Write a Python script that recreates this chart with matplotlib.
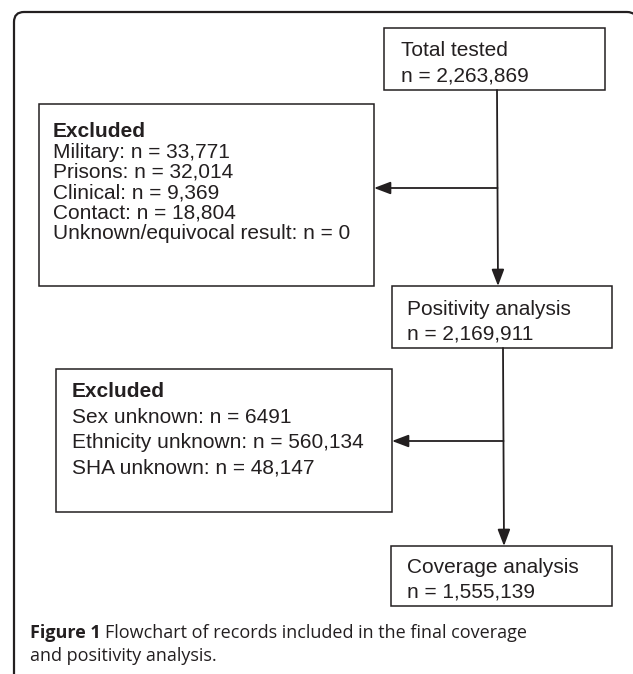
import matplotlib
matplotlib.use("Agg")
import matplotlib.pyplot as plt
from matplotlib.path import Path
from matplotlib.patches import PathPatch, Rectangle

# flowchart content
total_label = "Total tested"
total_n = 2263869
excl1_title = "Excluded"
excl1_labels = ["Military", "Prisons", "Clinical", "Contact", "Unknown/equivocal result"]
excl1_n = [33771, 32014, 9369, 18804, 0]
pos_label = "Positivity analysis"
pos_n = 2169911
excl2_title = "Excluded"
excl2_labels = ["Sex unknown", "Ethnicity unknown", "SHA unknown"]
excl2_n = ["6491", "560,134", "48,147"]
cov_label = "Coverage analysis"
cov_n = 1555139
caption_bold = "Figure 1"
caption_rest = ["Flowchart of records included in the final coverage",
                "and positivity analysis."]

W, H = 633, 674
ink = "#231f20"
fs = 15.0

fig = plt.figure(figsize=(W / 100, H / 100), dpi=100)
ax = fig.add_axes([0, 0, 1, 1])
ax.set_xlim(0, W)
ax.set_ylim(H, 0)
ax.axis("off")

# outer rounded frame (open at bottom, right side off canvas)
r = 10
verts = [(14, H + 5), (14, 12 + r), (14, 12), (14 + r, 12),
         (637 - r, 12), (637, 12), (637, 12 + r), (637, H + 5)]
codes = [Path.MOVETO, Path.LINETO, Path.CURVE3, Path.CURVE3,
         Path.LINETO, Path.CURVE3, Path.CURVE3, Path.LINETO]
ax.add_patch(PathPatch(Path(verts, codes), fill=False, ec=ink, lw=1.6))


def box(x0, y0, x1, y1):
    ax.add_patch(Rectangle((x0, y0), x1 - x0, y1 - y0, fill=False, ec=ink, lw=1.1))


def txt(x, y, s, **kw):
    ax.text(x, y, s, fontsize=fs, family="Liberation Sans", color=ink,
            va="baseline", ha="left", **kw)


def arrow(x0, y0, x1, y1):
    ax.annotate("", xy=(x1, y1), xytext=(x0, y0),
                arrowprops=dict(arrowstyle="-|>,head_length=1.0,head_width=0.38",
                                color=ink, lw=1.3, shrinkA=0, shrinkB=0))


# boxes
box(384, 28, 605, 90)
txt(401, 56, total_label)
txt(401, 82, "n = {:,}".format(total_n))

box(39, 104, 374, 286)
txt(53, 137, excl1_title, weight="bold")
for i, (lab, n) in enumerate(zip(excl1_labels, excl1_n)):
    txt(53, 157.5 + i * 20.4, "{}: n = {:,}".format(lab, n))

box(392, 286, 612, 348)
txt(407, 315, pos_label)
txt(407, 339, "n = {:,}".format(pos_n))

box(56, 369, 392, 512)
txt(72, 397, excl2_title, weight="bold")
for i, (lab, n) in enumerate(zip(excl2_labels, excl2_n)):
    txt(72, 423 + i * 25, "{}: n = {}".format(lab, n))

box(391, 546, 612, 606)
txt(407, 573, cov_label)
txt(407, 597, "n = {:,}".format(cov_n))

# connectors
arrow(497, 90, 498, 286)
arrow(497.5, 188, 374, 188)
arrow(503, 348, 504, 546)
arrow(503.5, 441, 392, 441)

# caption
cap_font = "Open Sans"
cfs = 13.0
t = ax.text(30, 638, caption_bold, fontsize=cfs, family=cap_font, weight="bold",
            color=ink, va="baseline", ha="left")
fig.canvas.draw()
bb = t.get_window_extent(renderer=fig.canvas.get_renderer())
ax.text(bb.x1 + 4, 638, caption_rest[0], fontsize=cfs, family=cap_font,
        color=ink, va="baseline", ha="left")
ax.text(30, 661, caption_rest[1], fontsize=cfs, family=cap_font,
        color=ink, va="baseline", ha="left")

fig.savefig("out.png", dpi=100, facecolor="white")
